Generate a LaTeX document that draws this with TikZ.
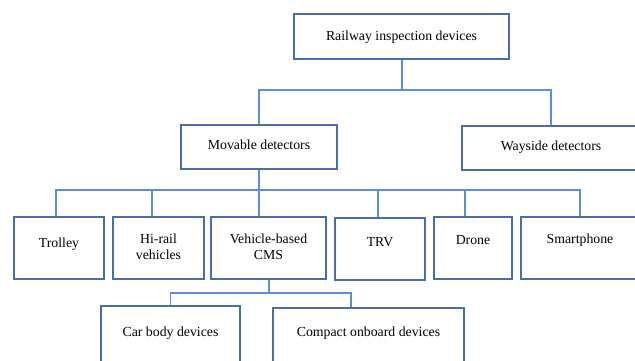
\documentclass[tikz,border=0pt]{standalone}
\usepackage{fontspec}
\setmainfont{Liberation Serif}
\definecolor{boxblue}{HTML}{4A6FA8}
\definecolor{lineblue}{HTML}{5B8FD4}
\begin{document}
\begin{tikzpicture}[x=1pt,y=-1pt,
  box/.style={draw=boxblue, line width=1.8pt, rectangle, inner sep=0pt, fill=white},
  txt/.style={font=\fontsize{13.8}{16}\selectfont, align=center, inner sep=0pt},
  conn/.style={draw=lineblue, line width=1.2pt}]
\useasboundingbox (0,0) rectangle (635,360);
\clip (0,0) rectangle (635,360);
% boxes
\node[box, minimum width=215, minimum height=45] (top) at (401.5,36.5) {};
\node[box, minimum width=156, minimum height=44] (movable) at (259,147) {};
\node[box, minimum width=178, minimum height=44] (wayside) at (551,148) {};
\node[box, minimum width=90, minimum height=62] (trolley) at (59,248) {};
\node[box, minimum width=91, minimum height=62] (hirail) at (158.5,248) {};
\node[box, minimum width=115, minimum height=62] (vehicle) at (268.5,248) {};
\node[box, minimum width=90, minimum height=62] (trv) at (380,249) {};
\node[box, minimum width=78, minimum height=62] (drone) at (473,248) {};
\node[box, minimum width=118, minimum height=62] (smart) at (580,248) {};
\node[box, minimum width=139, minimum height=80] (car) at (170.5,346) {};
\node[box, minimum width=191, minimum height=80] (compact) at (368.5,348) {};
% texts
\node[txt] (ttop) at (401.5,37) {Railway inspection devices};
\node[txt] (tmov) at (259,145) {Movable detectors};
\node[txt] (tway) at (551,147) {Wayside detectors};
\node[txt] (ttro) at (59,244) {Trolley};
\node[txt] (thr) at (158.5,247) {Hi-rail\\vehicles};
\node[txt] (tveh) at (268.5,247) {Vehicle-based\\CMS};
\node[txt] (ttrv) at (380,242) {TRV};
\node[txt] (tdro) at (473,240) {Drone};
\node[txt] (tsma) at (580,240) {Smartphone};
\node[txt] (tcar) at (170.5,333) {Car body devices};
\node[txt] (tcom) at (368.5,333) {Compact onboard devices};
% connectors
\coordinate (j1) at (402,90);
\draw[conn] ([xshift=0.5]top.south) -- (j1);
\draw[conn] (movable.north) |- (j1) -| (wayside.north);
\coordinate (j2) at (259,190);
\draw[conn] (movable.south) -- (movable.south |- vehicle.north);
\draw[conn] ([xshift=-3]trolley.north) |- (j2) -| (smart.north);
\draw[conn] ([xshift=-6.5]hirail.north |- j2) -- ([xshift=-6.5]hirail.north);
\draw[conn] ([xshift=-2]trv.north |- j2) -- ([xshift=-2]trv.north);
\draw[conn] ([xshift=-8]drone.north |- j2) -- ([xshift=-8]drone.north);
\coordinate (j3) at (269,293);
\draw[conn] ([xshift=0.5]vehicle.south) -- (j3);
\draw[conn] (car.north) |- (j3) -| ([xshift=-17.5]compact.north);
\end{tikzpicture}
\end{document}
